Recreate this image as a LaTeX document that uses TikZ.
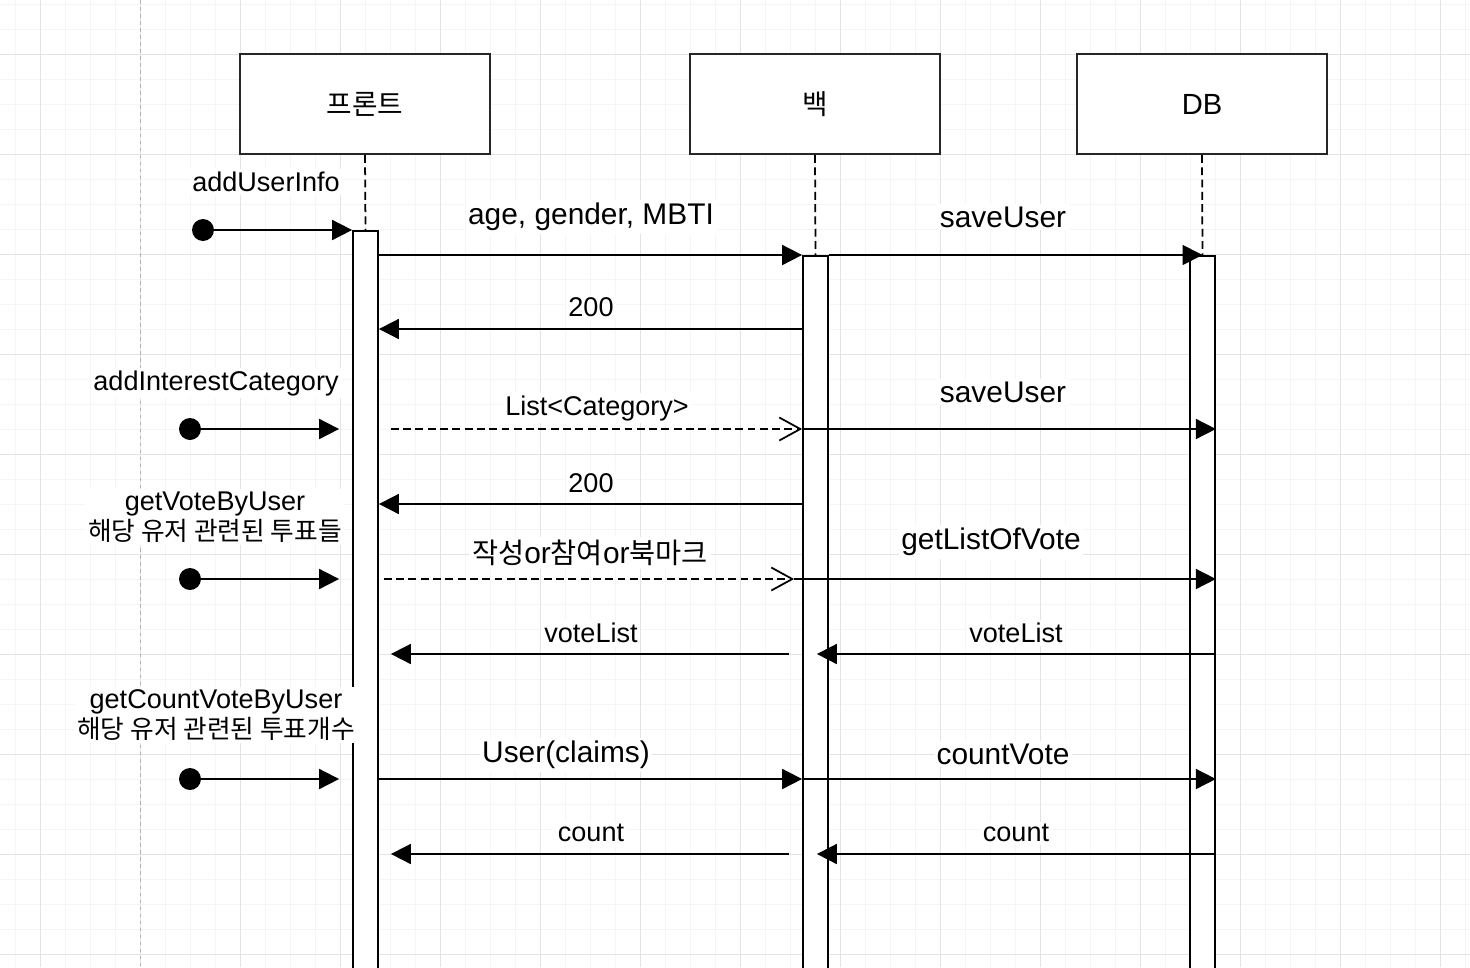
\documentclass[tikz,border=0pt]{standalone}
\usepackage{fontspec}
\setmainfont{Liberation Sans}
\newfontfamily\kr[Scale=0.95]{Noto Sans CJK KR}
\usetikzlibrary{arrows.meta}

\begin{document}
\begin{tikzpicture}[x=0.02cm,y=-0.02cm,font=\fontsize{15.4}{17}\selectfont,
  actor/.style={draw=black!85,line width=1.1pt,fill=white,minimum width=5cm,minimum height=2cm,inner sep=0pt,font=\fontsize{16.6}{19}\selectfont},
  actbar/.style={draw=black,line width=1pt,fill=white,minimum width=0.5cm,minimum height=16cm,inner sep=0pt,anchor=north},
  lifeline/.style={line width=1pt,dash pattern=on 4.5pt off 2.5pt},
  msg/.style={line width=1pt,-{Triangle[length=0.4cm,width=0.4cm]}},
  ret/.style={line width=1pt,dash pattern=on 4.5pt off 2.5pt,-{Straight Barb[length=0.42cm,width=0.46cm]}},
  initdot/.style={circle,fill=black,minimum size=0.44cm,inner sep=0pt},
  lbl/.style={fill=white,inner sep=1.5pt,align=center},
  biglbl/.style={lbl,font=\fontsize{17}{19}\selectfont}]
\useasboundingbox (0,0) rectangle (1470,967);
\fill[white] (0,0) rectangle (1470,967);
\foreach \gx in {15,40,...,1465} \draw[gray!8,line width=0.5pt] (\gx,0) -- (\gx,967);
\foreach \gy in {4,29,...,954} \draw[gray!8,line width=0.5pt] (0,\gy) -- (1470,\gy);
\foreach \gx in {40,140,...,1440} \draw[gray!22,line width=0.5pt] (\gx,0) -- (\gx,967);
\foreach \gy in {54,154,...,954} \draw[gray!22,line width=0.5pt] (0,\gy) -- (1470,\gy);
\draw[gray!60,line width=0.5pt,dash pattern=on 2pt off 2pt] (140,0) -- (140,967);

\node[actor] (front) at (365,104) {\kr 프론트};
\node[actor] (back) at (815,104) {\kr 백};
\node[actor] (db) at (1202,104) {DB};
\node[actbar] (actF) at (365.5,230) {};
\node[actbar] (actB) at (815.5,255) {};
\node[actbar] (actD) at (1202.5,255) {};
\draw[lifeline] (front.south) -- (actF.north);
\draw[lifeline] (back.south) -- (actB.north);
\draw[lifeline] (db.south) -- (actD.north);

\node[initdot] (in1) at (203,230) {};
\draw[msg] (in1) -- (actF.north west);
\node[lbl] (l1) at (266,182) {addUserInfo};
\draw[msg] (actF.east |- 0,255) -- (actB.north west);
\node[biglbl] (l2) at (591,217) {age, gender, MBTI};
\draw[msg] (actB.north east) -- (actD.north);
\node[biglbl] (l3) at (1003,217) {saveUser};
\draw[msg] (actB.west |- 0,329) -- (actF.east |- 0,329);
\node[lbl] (l4) at (591,307) {200};

\node[initdot] (in2) at (190,429) {};
\draw[msg,shorten >=0.26cm] (in2) -- (actF.west |- in2);
\node[lbl] (l5) at (216,383) {addInterestCategory};
\draw[ret,shorten <=0.24cm] (actF.east |- 0,429) -- (actB.west |- 0,429);
\node[lbl] (l6) at (597,408) {List<Category>};
\draw[msg] (actB.west |- 0,429) -- (actD.east |- 0,429);
\node[biglbl] (l7) at (1003,392) {saveUser};
\draw[msg] (actB.west |- 0,504) -- (actF.east |- 0,504);
\node[lbl] (l8) at (591,483) {200};

\node[initdot] (in3) at (190,579) {};
\draw[msg,shorten >=0.26cm] (in3) -- (actF.west |- in3);
\node[lbl] (l9) at (215,517) {getVoteByUser\\{\kr 해당 유저 관련된 투표들}};
\draw[ret,shorten <=0.1cm,shorten >=0.16cm] (actF.east |- 0,579) -- (actB.west |- 0,579);
\node[biglbl] (l10) at (590,553) {{\kr 작성}or{\kr 참여}or{\kr 북마크}};
\draw[msg] ([xshift=-0.16cm]actB.west |- 0,579) -- (actD.east |- 0,579);
\node[biglbl] (l11) at (991,542) {getListOfVote};
\draw[msg,shorten <=0.26cm,shorten >=0.24cm] (actB.west |- 0,654) -- (actF.east |- 0,654);
\node[lbl] (l12) at (591,633) {voteList};
\draw[msg] (actD.east |- 0,654) -- ([xshift=-0.24cm]actB.east |- 0,654);
\node[lbl] (l13) at (1016,633) {voteList};

\node[initdot] (in4) at (190,779) {};
\draw[msg,shorten >=0.26cm] (in4) -- (actF.west |- in4);
\node[lbl] (l14) at (216,715) {getCountVoteByUser\\{\kr 해당 유저 관련된 투표개수}};
\draw[msg] (actF.east |- 0,779) -- (actB.west |- 0,779);
\node[biglbl] (l15) at (566,755) {User(claims)};
\draw[msg] (actB.west |- 0,779) -- (actD.east |- 0,779);
\node[biglbl] (l16) at (1003,754) {countVote};
\draw[msg,shorten <=0.26cm,shorten >=0.24cm] (actB.west |- 0,854) -- (actF.east |- 0,854);
\node[lbl] (l17) at (591,833) {count};
\draw[msg] (actD.east |- 0,854) -- ([xshift=-0.24cm]actB.east |- 0,854);
\node[lbl] (l18) at (1016,833) {count};
\end{tikzpicture}
\end{document}
